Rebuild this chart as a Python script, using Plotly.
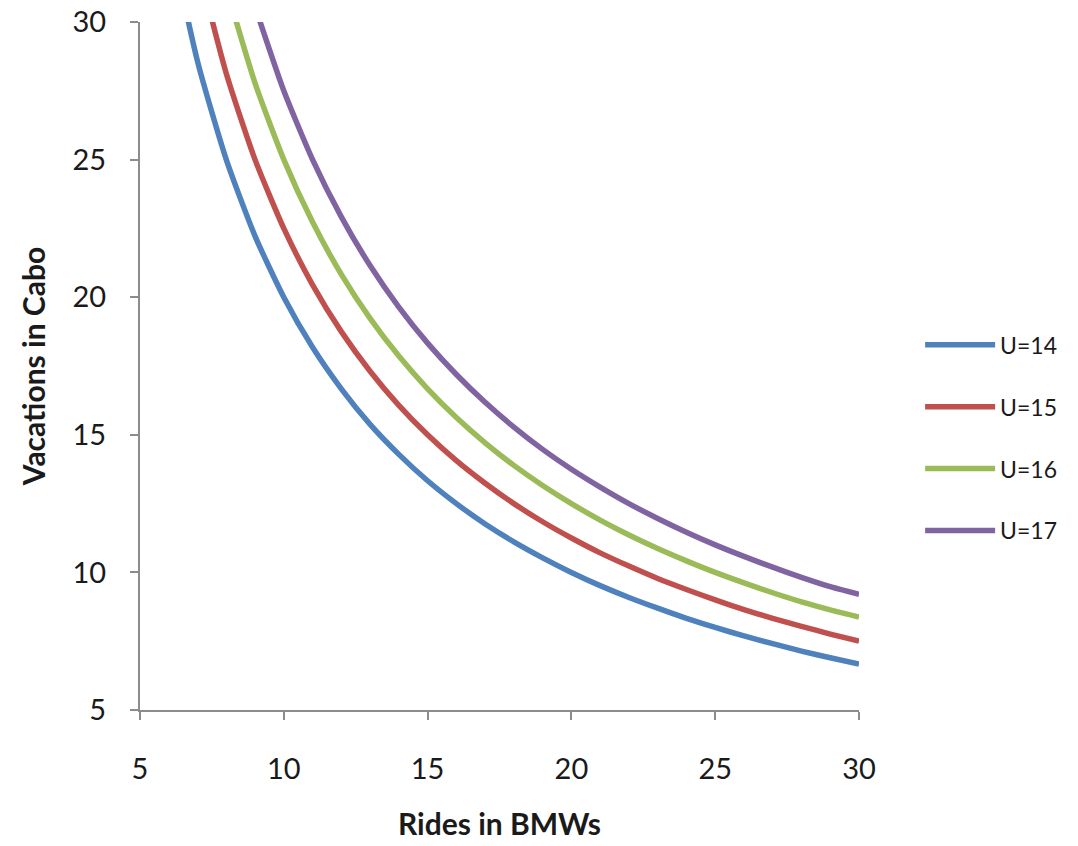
import plotly.graph_objects as go

# Rides in BMWs (x) and Vacations in Cabo (y)
x_u14 = [6, 7, 8, 9, 10, 11, 12, 13, 14, 15, 16, 17, 18, 19, 20, 21, 22, 23, 24, 25, 26, 27, 28, 29, 30]
y_u14 = [33.33, 28.57, 25.00, 22.22, 20.00, 18.18, 16.67, 15.38, 14.29, 13.33, 12.50, 11.76, 11.11,
         10.53, 10.00, 9.52, 9.09, 8.70, 8.33, 8.00, 7.69, 7.41, 7.14, 6.90, 6.67]

x_u15 = [7, 8, 9, 10, 11, 12, 13, 14, 15, 16, 17, 18, 19, 20, 21, 22, 23, 24, 25, 26, 27, 28, 29, 30]
y_u15 = [32.14, 28.13, 25.00, 22.50, 20.45, 18.75, 17.31, 16.07, 15.00, 14.06, 13.24, 12.50, 11.84,
         11.25, 10.71, 10.23, 9.78, 9.38, 9.00, 8.65, 8.33, 8.04, 7.76, 7.50]

x_u16 = [8, 9, 10, 11, 12, 13, 14, 15, 16, 17, 18, 19, 20, 21, 22, 23, 24, 25, 26, 27, 28, 29, 30]
y_u16 = [31.25, 27.78, 25.00, 22.73, 20.83, 19.23, 17.86, 16.67, 15.63, 14.71, 13.89, 13.16, 12.50,
         11.90, 11.36, 10.87, 10.42, 10.00, 9.62, 9.26, 8.93, 8.64, 8.38]

x_u17 = [9, 10, 11, 12, 13, 14, 15, 16, 17, 18, 19, 20, 21, 22, 23, 24, 25, 26, 27, 28, 29, 30]
y_u17 = [30.56, 27.50, 25.00, 22.92, 21.15, 19.64, 18.33, 17.19, 16.18, 15.28, 14.47, 13.75, 13.10,
         12.50, 11.96, 11.46, 11.00, 10.58, 10.19, 9.82, 9.48, 9.20]

series_names = ["U=14", "U=15", "U=16", "U=17"]
series_x = [x_u14, x_u15, x_u16, x_u17]
series_y = [y_u14, y_u15, y_u16, y_u17]
colors = ["#4F81BD", "#C0504D", "#9BBB59", "#8064A2"]

tick_vals = [5, 10, 15, 20, 25, 30]

fig = go.Figure()
for name, xs, ys, c in zip(series_names, series_x, series_y, colors):
    fig.add_trace(go.Scatter(
        x=xs, y=ys, mode="lines", name=name, legendgroup=name,
        line=dict(color=c, width=5.5, shape="spline", smoothing=0.6),
    ))

axis_common = dict(
    showgrid=False, zeroline=False, automargin=False,
    showline=True, linecolor="#8C8C8C", linewidth=2,
    ticks="outside", ticklen=8, tickcolor="#8C8C8C", tickwidth=2,
    tickvals=tick_vals,
    tickfont=dict(family="Lato", size=29, color="#1a1a1a"),
)

fig.update_layout(
    width=1078, height=846,
    margin=dict(l=140, r=219, t=22, b=136),
    paper_bgcolor="white", plot_bgcolor="white",
    font=dict(family="Lato", color="#1a1a1a"),
    xaxis=dict(range=[5, 30], title=dict(text="<b>Rides in BMWs</b>",
               font=dict(family="Lato", size=30), standoff=30),
               ticklabelstandoff=24, **axis_common),
    yaxis=dict(range=[5, 30], title=dict(text="<b>Vacations in Cabo</b>",
               font=dict(family="Lato", size=30), standoff=18),
               ticklabelstandoff=18, **axis_common),
    legend=dict(
        x=1.085, y=0.562, xanchor="left", yanchor="top",
        font=dict(family="Lato", size=23, color="#1a1a1a"),
        tracegroupgap=29, itemwidth=70,
        bgcolor="rgba(0,0,0,0)",
    ),
    showlegend=True,
)

fig.write_html("out.html")
